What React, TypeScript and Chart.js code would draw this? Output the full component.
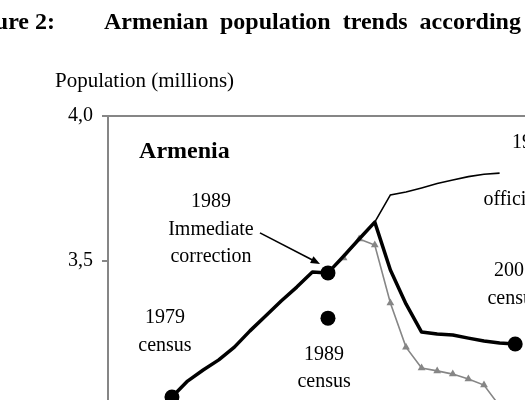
import React, { useEffect, useRef } from "react";
import { Chart, registerables } from "chart.js";

Chart.register(...registerables);

// ---- data ----
const correctedYears = [1979, 1980, 1981, 1982, 1983, 1984, 1985, 1986, 1987, 1988, 1989, 1990, 1991, 1992, 1993, 1994, 1995, 1996, 1997, 1998, 1999, 2000, 2001];
const correctedValues = [3.031, 3.086, 3.124, 3.159, 3.203, 3.259, 3.31, 3.362, 3.41, 3.462, 3.459, 3.517, 3.576, 3.634, 3.469, 3.352, 3.255, 3.248, 3.245, 3.234, 3.224, 3.217, 3.214];

const officialYears = [1991, 1992, 1993, 1994, 1995, 1996, 1997, 1998, 1999, 2000];
const officialValues = [3.576, 3.634, 3.728, 3.738, 3.752, 3.767, 3.779, 3.791, 3.799, 3.803];

const adjustedYears = [1989, 1990, 1991, 1992, 1993, 1994, 1995, 1996, 1997, 1998, 1999, 2000];
const adjustedValues = [3.459, 3.51, 3.576, 3.555, 3.355, 3.203, 3.131, 3.121, 3.11, 3.093, 3.072, 3.0];

const censusYears = [1979, 1989, 1989, 2001];
const censusValues = [3.031, 3.459, 3.303, 3.214];

const yTickValues = [3.5, 4.0];

// annotation text, anchored in data coordinates (first-line baseline)
const labelTexts = [["1979", "census"], ["1989", "census"], ["1989", "Immediate", "correction"], ["2001", "census"], ["official"]];
const labelYears = [1978.55, 1988.75, 1981.5, 2000.93, 2000.8];
const labelValues = [3.286, 3.159, 3.686, 3.448, 3.693];

const topRightText = "1990s";
const topRightYear = 2000.8;
const topRightValue = 3.89;

const countryText = "Armenia";
const countryYear = 1976.89;
const countryValue = 3.855;

const arrowFrom = [1984.64, 3.597];
const arrowTo = [1988.49, 3.49];

const figureLabel = "Figure 2:";
const figureTitle = "Armenian population trends according to official and corrected estimates";
const axisTitle = "Population (millions)";

// ---- style ----
const SERIF = '"Liberation Serif", "Times New Roman", serif';
const GRAY = "#868686";
const X_MIN = 1974.9;
const X_MAX = 2004;

const textPlugin = {
  id: "textPlugin",
  afterDraw(chart: any) {
    const { ctx, scales } = chart;
    const xs = scales.x;
    const ys = scales.y;
    ctx.save();
    ctx.fillStyle = "#000";
    ctx.textBaseline = "alphabetic";

    // figure title
    ctx.font = `bold 24px ${SERIF}`;
    ctx.textAlign = "right";
    ctx.fillText(figureLabel, 55, 29);
    ctx.textAlign = "left";
    try {
      (ctx as any).wordSpacing = "6px";
    } catch (e) {}
    ctx.fillText(figureTitle, 104, 29);
    try {
      (ctx as any).wordSpacing = "0px";
    } catch (e) {}

    // axis title
    ctx.font = `21px ${SERIF}`;
    ctx.textAlign = "left";
    ctx.fillText(axisTitle, 55, 87);

    // country
    ctx.font = `bold 24px ${SERIF}`;
    ctx.textAlign = "left";
    ctx.fillText(countryText, xs.getPixelForValue(countryYear), ys.getPixelForValue(countryValue));

    // labels
    ctx.font = `20px ${SERIF}`;
    ctx.textAlign = "center";
    labelTexts.forEach((lines, i) => {
      const px = xs.getPixelForValue(labelYears[i]);
      const py = ys.getPixelForValue(labelValues[i]);
      lines.forEach((t, j) => ctx.fillText(t, px, py + j * 27.5));
    });
    ctx.textAlign = "left";
    ctx.fillText(topRightText, xs.getPixelForValue(topRightYear), ys.getPixelForValue(topRightValue));

    // arrow
    const x1 = xs.getPixelForValue(arrowFrom[0]);
    const y1 = ys.getPixelForValue(arrowFrom[1]);
    const x2 = xs.getPixelForValue(arrowTo[0]);
    const y2 = ys.getPixelForValue(arrowTo[1]);
    const ang = Math.atan2(y2 - y1, x2 - x1);
    const head = 10;
    ctx.strokeStyle = "#000";
    ctx.lineWidth = 1.6;
    ctx.beginPath();
    ctx.moveTo(x1, y1);
    ctx.lineTo(x2 - Math.cos(ang) * head * 0.8, y2 - Math.sin(ang) * head * 0.8);
    ctx.stroke();
    ctx.beginPath();
    ctx.moveTo(x2, y2);
    ctx.lineTo(x2 - head * Math.cos(ang - 0.38), y2 - head * Math.sin(ang - 0.38));
    ctx.lineTo(x2 - head * Math.cos(ang + 0.38), y2 - head * Math.sin(ang + 0.38));
    ctx.closePath();
    ctx.fill();
    ctx.restore();
  },
};

function toPoints(xs: number[], ys: number[]) {
  return xs.map((x, i) => ({ x, y: ys[i] }));
}

export default function App() {
  const ref = useRef<HTMLCanvasElement | null>(null);

  useEffect(() => {
    if (!ref.current) return;
    const chart = new Chart(ref.current, {
      type: "line",
      data: {
        datasets: [
          {
            label: "census",
            data: toPoints(censusYears, censusValues),
            showLine: false,
            pointRadius: 7.5,
            pointBackgroundColor: "#000",
            pointBorderColor: "#000",
            pointBorderWidth: 0,
            clip: false,
          } as any,
          {
            label: "corrected",
            data: toPoints(correctedYears, correctedValues),
            borderColor: "#000",
            borderWidth: 3.5,
            pointRadius: 0,
            tension: 0,
            borderJoinStyle: "round",
            clip: false,
          },
          {
            label: "official",
            data: toPoints(officialYears, officialValues),
            borderColor: "#000",
            borderWidth: 1.6,
            pointRadius: 0,
            tension: 0,
            clip: false,
          },
          {
            label: "adjusted",
            data: toPoints(adjustedYears, adjustedValues),
            borderColor: GRAY,
            borderWidth: 1.6,
            pointStyle: "triangle",
            pointRadius: 4.5,
            pointBackgroundColor: GRAY,
            pointBorderColor: GRAY,
            pointBorderWidth: 0,
            tension: 0,
            clip: false,
          },
        ],
      },
      options: {
        animation: false,
        responsive: false,
        maintainAspectRatio: false,
        events: [],
        layout: { autoPadding: false, padding: { left: 0, right: 0, top: 116, bottom: 34 } },
        plugins: {
          legend: { display: false },
          tooltip: { enabled: false },
        },
        scales: {
          x: { type: "linear", min: X_MIN, max: X_MAX, display: false },
          xTop: {
            type: "linear",
            position: "top",
            min: X_MIN,
            max: X_MAX,
            grid: { display: false },
            ticks: { display: false },
            border: { display: true, color: GRAY, width: 2 },
            afterFit: (s: any) => {
              s.height = 0;
            },
          },
          y: {
            type: "linear",
            min: 3,
            max: 4,
            afterBuildTicks: (s: any) => {
              s.ticks = yTickValues.map((v) => ({ value: v }));
            },
            ticks: {
              color: "#000",
              padding: 9,
              font: { family: SERIF, size: 20 },
              callback: (v: any) => Number(v).toFixed(1).replace(".", ","),
            },
            grid: { drawOnChartArea: false, drawTicks: true, tickLength: 6, color: GRAY, lineWidth: 2 },
            border: { display: true, color: GRAY, width: 2 },
            afterFit: (s: any) => {
              s.width = 108;
            },
          },
        },
      } as any,
      plugins: [textPlugin],
    });
    return () => chart.destroy();
  }, []);

  return (
    <div style={{ position: "fixed", left: 0, top: 0, width: 525, height: 400, overflow: "hidden", background: "#fff" }}>
      <canvas ref={ref} width={562} height={440} style={{ display: "block", width: 562, height: 440 }} />
    </div>
  );
}
